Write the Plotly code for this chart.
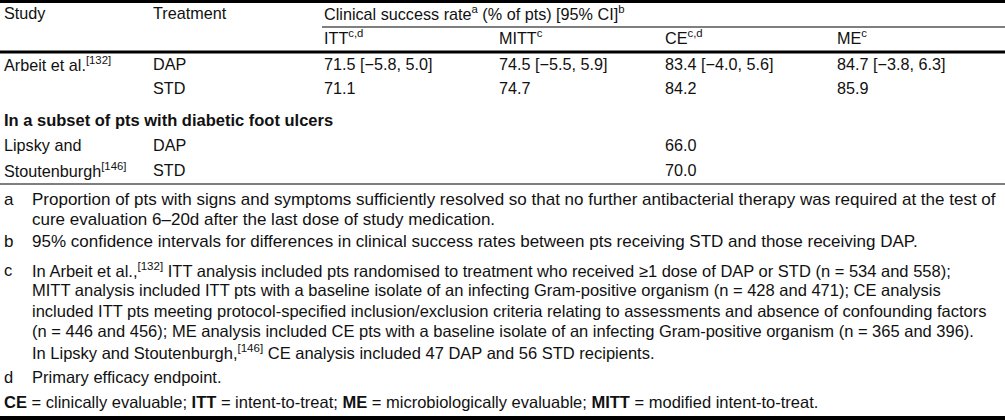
import plotly.graph_objects as go

# ---------------- data ----------------
header_cols = ["Study", "Treatment", "Clinical success rate<sup>a</sup> (% of pts) [95% CI]<sup>b</sup>"]
analysis_cols = ["ITT<sup>c,d</sup>", "MITT<sup>c</sup>", "CE<sup>c,d</sup>", "ME<sup>c</sup>"]

study_labels = ["Arbeit et al.<sup>[132]</sup>", "", "Lipsky and", "Stoutenburgh<sup>[146]</sup>"]
treatments = ["DAP", "STD", "DAP", "STD"]
itt_values = ["71.5 [−5.8, 5.0]", "71.1", "", ""]
mitt_values = ["74.5 [−5.5, 5.9]", "74.7", "", ""]
ce_values = ["83.4 [−4.0, 5.6]", "84.2", "66.0", "70.0"]
me_values = ["84.7 [−3.8, 6.3]", "85.9", "", ""]
subset_label = "<b>In a subset of pts with diabetic foot ulcers</b>"

footnote_keys = ["a", "b", "c", "d"]
footnote_lines = [
    ["Proportion of pts with signs and symptoms sufficiently resolved so that no further antibacterial therapy was required at the test of",
     "cure evaluation 6–20d after the last dose of study medication."],
    ["95% confidence intervals for differences in clinical success rates between pts receiving STD and those receiving DAP."],
    ["In Arbeit et al.,<sup>[132]</sup> ITT analysis included pts randomised to treatment who received ≥1 dose of DAP or STD (n = 534 and 558);",
     "MITT analysis included ITT pts with a baseline isolate of an infecting Gram-positive organism (n = 428 and 471); CE analysis",
     "included ITT pts meeting protocol-specified inclusion/exclusion criteria relating to assessments and absence of confounding factors",
     "(n = 446 and 456); ME analysis included CE pts with a baseline isolate of an infecting Gram-positive organism (n = 365 and 396).",
     "In Lipsky and Stoutenburgh,<sup>[146]</sup> CE analysis included 47 DAP and 56 STD recipients."],
    ["Primary efficacy endpoint."],
]
abbreviations = ("<b>CE</b> = clinically evaluable; <b>ITT</b> = intent-to-treat; "
                 "<b>ME</b> = microbiologically evaluable; <b>MITT</b> = modified intent-to-treat.")

# ---------------- layout (pixel grid) ----------------
W, H = 1005, 420
FONT = "Liberation Sans, Arial, sans-serif"
COLOR = "#111111"
TS = 16.2    # table font size
FS_AB = 17   # footnotes a, b
FS_CD = 16.5 # footnotes c, d, abbreviations

col_x = [2, 151]
val_x = [322, 497, 663, 835]
row_y = [64, 88, 145, 170]
foot_y = [[199, 219], [241], [270, 290, 311, 331, 352], [377]]
foot_size = [FS_AB, FS_AB, FS_CD, FS_CD]

fig = go.Figure()
fig.add_trace(go.Scatter(x=[0, W], y=[0, H], mode="markers",
                         marker=dict(opacity=0), hoverinfo="skip", showlegend=False))

ann = []
def txt(x, y, s, size=TS):
    ann.append(dict(x=x, y=y, xref="x", yref="y", text=s, showarrow=False,
                    xanchor="left", yanchor="middle", align="left",
                    font=dict(family=FONT, size=size, color=COLOR)))

# header
txt(col_x[0], 13, header_cols[0])
txt(col_x[1], 13, header_cols[1])
txt(val_x[0], 13, header_cols[2])
for x, s in zip(val_x, analysis_cols):
    txt(x, 37, s)

# body rows
for i, y in enumerate(row_y):
    if study_labels[i]:
        txt(col_x[0], y, study_labels[i])
    txt(col_x[1], y, treatments[i])
    for x, col in zip(val_x, [itt_values, mitt_values, ce_values, me_values]):
        if col[i]:
            txt(x, y, col[i])
txt(col_x[0], 120, subset_label, size=16.5)

# footnotes
for key, lines, ys, fs in zip(footnote_keys, footnote_lines, foot_y, foot_size):
    txt(2, ys[0], key, size=fs)
    for line, y in zip(lines, ys):
        txt(30, y, line, size=fs)
txt(2, 402, abbreviations, size=FS_CD)

shapes = [
    dict(type="line", xref="x", yref="y", x0=0, x1=W, y0=1.5, y1=1.5, line=dict(color="black", width=3)),
    dict(type="line", xref="x", yref="y", x0=val_x[0], x1=W, y0=27, y1=27, line=dict(color="black", width=1.2)),
    dict(type="line", xref="x", yref="y", x0=0, x1=W, y0=52, y1=52, line=dict(color="black", width=3)),
    dict(type="line", xref="x", yref="y", x0=0, x1=W, y0=184, y1=184, line=dict(color="black", width=1.2)),
    dict(type="line", xref="x", yref="y", x0=0, x1=W, y0=418.5, y1=418.5, line=dict(color="black", width=5)),
]

fig.update_layout(
    width=W, height=H, margin=dict(l=0, r=0, t=0, b=0),
    paper_bgcolor="white", plot_bgcolor="white",
    xaxis=dict(range=[0, W], visible=False, fixedrange=True),
    yaxis=dict(range=[H, 0], visible=False, fixedrange=True),
    annotations=ann, shapes=shapes, showlegend=False,
)
fig.write_html("out.html", config={"displayModeBar": False},
               post_script="document.body.style.margin='0';document.body.style.overflow='hidden';")
